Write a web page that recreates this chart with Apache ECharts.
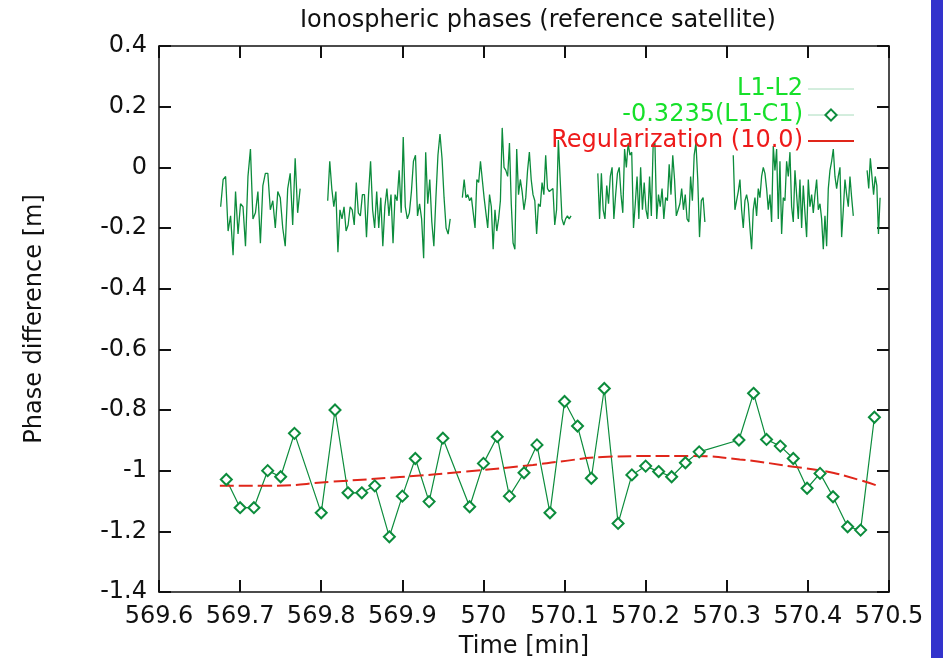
<!DOCTYPE html>
<html lang="en">
<head>
<meta charset="UTF-8">
<title>Ionospheric phases</title>
<script src="https://cdn.jsdelivr.net/npm/echarts@6/dist/echarts.min.js"></script>
<style>
  html, body { margin: 0; padding: 0; background: #fff; }
  #chart { width: 946px; height: 658px; }
</style>
</head>
<body>
<div id="chart"></div>
<script>
// L1-L2 : pieces of the phase track, each with its start/end time [min]
var segStart = [569.676, 569.808, 569.974, 570.141, 570.308, 570.473];
var segEnd   = [569.774, 569.959, 570.108, 570.273, 570.456, 570.489];
var seg1 = [-0.13, -0.04, -0.03, -0.21, -0.16, -0.29, -0.08, -0.22, -0.12, -0.13, -0.26, -0.03, 0.06, -0.17, -0.15, -0.08, -0.25, -0.06, -0.02, -0.02, -0.14, -0.11, -0.2, -0.08, -0.1, -0.2, -0.26, -0.07, -0.02, -0.19, 0.03, -0.15, -0.07];
var seg2 = [-0.11, 0.02, -0.07, -0.13, -0.08, -0.28, -0.14, -0.17, -0.13, -0.21, -0.19, -0.13, -0.14, -0.19, -0.05, -0.15, -0.16, -0.09, -0.09, -0.23, -0.09, 0.02, -0.14, -0.2, -0.08, -0.2, -0.1, -0.26, -0.13, -0.07, -0.16, -0.09, -0.25, -0.09, -0.11, -0.01, -0.15, 0.1, -0.13, -0.17, -0.15, -0.08, 0.02, 0.04, -0.16, -0.12, -0.17, -0.3, 0.05, -0.12, -0.04, -0.18, -0.26, -0.1, 0.04, 0.11, 0.03, -0.1, -0.2, -0.22, -0.17];
var seg3 = [-0.1, -0.04, -0.1, -0.09, -0.11, -0.1, -0.1, -0.2, -0.04, -0.05, 0.02, -0.04, -0.1, -0.15, -0.2, -0.09, -0.13, -0.27, -0.14, -0.21, -0.17, -0.11, 0.13, 0.0, -0.01, -0.03, 0.08, -0.12, -0.25, -0.27, 0.06, -0.09, -0.04, -0.08, -0.14, -0.1, -0.01, 0.05, -0.04, -0.09, -0.11, -0.22, -0.12, -0.13, -0.05, -0.09, 0.04, -0.07, -0.08, -0.08, -0.07, -0.19, -0.14, 0.09, -0.04, -0.17, -0.19, -0.17, -0.16, -0.17, -0.16];
var seg4 = [-0.02, -0.17, -0.02, -0.14, -0.17, -0.06, -0.12, -0.03, 0.0, -0.17, -0.09, -0.02, 0.0, -0.09, -0.15, 0.06, 0.0, 0.08, 0.04, 0.05, -0.2, -0.12, -0.03, -0.17, 0.0, -0.14, -0.05, -0.14, -0.17, -0.03, -0.16, 0.07, 0.08, -0.17, -0.09, -0.13, -0.07, -0.17, -0.1, -0.11, 0.01, -0.09, 0.04, -0.04, -0.16, -0.14, -0.12, -0.07, -0.14, -0.09, -0.17, -0.18, -0.03, -0.11, 0.04, 0.08, -0.04, -0.23, -0.11, -0.1, -0.18];
var seg5 = [0.04, -0.14, -0.11, -0.08, -0.04, -0.14, -0.2, -0.11, -0.09, -0.12, -0.2, -0.27, -0.14, -0.1, -0.16, -0.07, -0.1, -0.03, 0.0, -0.02, -0.07, -0.14, -0.09, -0.18, 0.07, -0.01, 0.06, -0.17, 0.02, -0.22, -0.1, -0.11, 0.02, -0.03, 0.05, -0.13, -0.18, -0.01, -0.09, -0.17, -0.04, -0.2, -0.06, -0.15, -0.23, -0.04, -0.13, -0.09, -0.15, -0.09, -0.04, -0.14, -0.12, -0.17, -0.27, -0.16, -0.26, -0.07, -0.01, 0.02, 0.06, -0.03, -0.07, -0.03, 0.0, -0.23, -0.14, -0.04, -0.09, -0.13, -0.03, -0.1, -0.16];
var seg6 = [-0.01, -0.07, 0.03, -0.03, -0.09, -0.03, -0.06, -0.22, -0.1];
var segVals = [seg1, seg2, seg3, seg4, seg5, seg6];

// -0.3235(L1-C1), one point per second
var c1Time = [569.683, 569.700, 569.717, 569.734, 569.750, 569.767, 569.800, 569.817, 569.833, 569.850, 569.866, 569.884, 569.900, 569.916, 569.933, 569.950, 569.983, 570.000, 570.017, 570.032, 570.050, 570.066, 570.082, 570.100, 570.116, 570.133, 570.149, 570.166, 570.183, 570.200, 570.216, 570.232, 570.249, 570.266, 570.315, 570.333, 570.349, 570.366, 570.382, 570.399, 570.415, 570.431, 570.449, 570.465, 570.482];
var c1Val = [-1.029, -1.122, -1.122, -1.0, -1.02, -0.877, -1.139, -0.80, -1.073, -1.073, -1.05, -1.218, -1.084, -0.96, -1.102, -0.893, -1.119, -0.976, -0.888, -1.084, -1.007, -0.915, -1.139, -0.772, -0.853, -1.025, -0.729, -1.174, -1.014, -0.985, -1.003, -1.02, -0.974, -0.938, -0.899, -0.745, -0.897, -0.919, -0.96, -1.058, -1.009, -1.086, -1.185, -1.196, -0.824];

// Regularization (10.0)
var regTime = [569.675, 569.733, 569.815, 569.897, 569.979, 570.061, 570.094, 570.147, 570.201, 570.258, 570.316, 570.382, 570.423, 570.464, 570.486];
var regVal = [-1.05, -1.05, -1.036, -1.021, -1.003, -0.981, -0.97, -0.955, -0.952, -0.952, -0.963, -0.987, -1.003, -1.031, -1.05];

var xTicks = { min: 569.6, max: 570.5, step: 0.1 };
var yTicks = { min: -1.4, max: 0.4, step: 0.2 };

var l1l2 = [];
for (var s = 0; s < segVals.length; s++) {
    var v = segVals[s];
    for (var i = 0; i < v.length; i++) {
        var t = segStart[s] + (segEnd[s] - segStart[s]) * i / (v.length - 1);
        l1l2.push([t, v[i]]);
    }
    if (s < segVals.length - 1) l1l2.push([segEnd[s] + 0.001, null]);
}
var l1c1 = c1Time.map(function (t, i) { return [t, c1Val[i]]; });
var reg = regTime.map(function (t, i) { return [t, regVal[i]]; });

var font = 'DejaVu Sans';
var green = '#0c8c3c';

var frameAxis = {
    axisLine: { show: true, onZero: false, lineStyle: { color: '#111', width: 1.5 } },
    axisTick: { show: true, inside: true, length: 12, lineStyle: { color: '#111', width: 2 } },
    splitLine: { show: false }
};

var chart = echarts.init(document.getElementById('chart'));
chart.setOption({
    animation: false,
    backgroundColor: '#fff',
    title: {
        text: 'Ionospheric phases (reference satellite)',
        left: 295, top: 4,
        textStyle: { fontFamily: font, fontSize: 24, fontWeight: 'normal', color: '#111' }
    },
    legend: {
        orient: 'vertical',
        align: 'right',
        right: 86, top: 72,
        itemWidth: 46, itemHeight: 14, itemGap: 2,
        textStyle: { fontFamily: font, fontSize: 24, lineHeight: 21 },
        data: [
            { name: 'L1-L2', textStyle: { color: '#16e02a' }, itemStyle: { opacity: 0 },
              lineStyle: { color: '#a8dcbc', width: 1 } },
            { name: '-0.3235(L1-C1)', textStyle: { color: '#16e02a' },
              lineStyle: { color: '#a8dcbc', width: 1 } },
            { name: 'Regularization (10.0)', textStyle: { color: '#ee1a1a' }, itemStyle: { opacity: 0 },
              lineStyle: { color: '#e0261a', width: 2, type: 'solid' } }
        ]
    },
    grid: { left: 159, right: 57, top: 46, bottom: 66, containLabel: false, outerBoundsMode: 'none' },
    xAxis: [
        Object.assign({}, frameAxis, {
            type: 'value', min: xTicks.min, max: xTicks.max, interval: xTicks.step,
            name: 'Time [min]', nameLocation: 'middle', nameGap: 43,
            nameTextStyle: { fontFamily: font, fontSize: 24, color: '#111' },
            axisLabel: { fontFamily: font, fontSize: 24, color: '#111', margin: 13 }
        }),
        Object.assign({}, frameAxis, {
            type: 'value', position: 'top', min: xTicks.min, max: xTicks.max, interval: xTicks.step,
            axisLabel: { show: false }
        })
    ],
    yAxis: [
        Object.assign({}, frameAxis, {
            type: 'value', min: yTicks.min, max: yTicks.max, interval: yTicks.step,
            name: 'Phase difference [m]', nameLocation: 'middle', nameGap: 112,
            nameTextStyle: { fontFamily: font, fontSize: 24, color: '#111' },
            axisLabel: { fontFamily: font, fontSize: 24, color: '#111', margin: 12, padding: [5, 0, 0, 0] }
        }),
        Object.assign({}, frameAxis, {
            type: 'value', position: 'right', min: yTicks.min, max: yTicks.max, interval: yTicks.step,
            axisLabel: { show: false }
        })
    ],
    series: [
        {
            name: 'L1-L2', type: 'line', data: l1l2, symbol: 'none',
            connectNulls: false,
            lineStyle: { color: green, width: 1.3 },
            itemStyle: { color: green }
        },
        {
            name: '-0.3235(L1-C1)', type: 'line', data: l1c1,
            symbol: 'emptyDiamond', symbolSize: 11,
            lineStyle: { color: green, width: 1.2 },
            itemStyle: { color: green, borderWidth: 1.3 }
        },
        {
            name: 'Regularization (10.0)', type: 'line', data: reg, symbol: 'none',
            smooth: true,
            lineStyle: { color: '#e0261a', width: 2, type: [14, 5] },
            itemStyle: { color: '#e0261a' }
        }
    ],
    graphic: [
        { type: 'rect', shape: { x: 931, y: 0, width: 12, height: 658 }, style: { fill: '#3333cc' } }
    ]
});
</script>
</body>
</html>
